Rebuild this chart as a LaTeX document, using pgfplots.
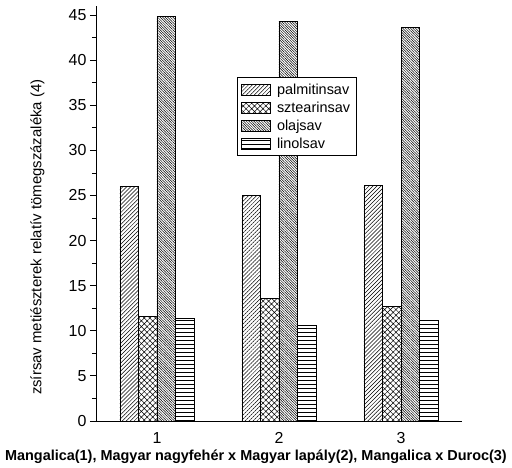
\documentclass[border=0pt]{standalone}
\usepackage{pgfplots}
\pgfplotsset{compat=1.18}
\usetikzlibrary{patterns.meta}
\usepackage{fontspec}
\setmainfont{Liberation Sans}
\begin{document}
\begin{tikzpicture}
\useasboundingbox (-96bp,-47bp) rectangle (416bp,421bp);
\begin{axis}[
  scale only axis,
  width=366bp, height=415bp,
  xmin=0.5, xmax=3.5, ymin=0, ymax=46,
  axis x line=bottom, axis y line=left,
  axis line style={-, line width=0.8bp},
  ybar=0pt, bar width=0.152,
  xtick={1,2,3}, xticklabels={1,2,3},
  major x tick style={draw=none},
  extra x ticks={0.5,1.5,2.5,3.5},
  extra x tick labels={},
  extra x tick style={major tick length=9bp, tick align=center, major tick style={draw=black, line width=0.8bp}},
  ytick={0,5,...,45}, minor y tick num=1,
  y tick style={line width=0.8bp, black},
  major tick length=6bp, minor tick length=4bp,
  tick align=outside,
  /pgf/number format/assume math mode=true,
  ticklabel style={font=\fontsize{16}{19}\selectfont},
  xticklabel style={yshift=-2bp},
  ylabel={zsírsav metiészterek relatív tömegszázaléka (4)},
  ylabel style={at={(axis description cs:-0.16,0.443)}, anchor=center, font=\fontsize{15}{18}\selectfont},
  xlabel={Mangalica(1), Magyar nagyfehér x Magyar lapály(2), Mangalica x Duroc(3)},
  xlabel style={at={(axis description cs:0.437,-0.0867)}, anchor=center, font=\bfseries\fontsize{14.5}{17}\selectfont},
  legend style={at={(rel axis cs:0.385,0.828)}, anchor=north west, draw=black, line width=0.8bp, fill=white,
    font=\fontsize{14.5}{17}\selectfont, row sep=2bp, inner xsep=4bp, inner ysep=4bp},
  legend cell align=left,
  legend image code/.code={\draw[#1, line width=0.6bp] (0bp,-5.5bp) rectangle (29bp,5.5bp); \path (33bp,0bp);},
  every axis plot/.append style={draw=black, line width=0.8bp},
]
\addplot[fill=white, postaction={pattern={Lines[angle=45,distance=2.8bp,line width=0.5bp]}}]
  coordinates {(1,26.0) (2,25.0) (3,26.1)};
\addplot[fill=white, postaction={pattern={Hatch[angle=45,distance=4bp,line width=0.5bp]}}]
  coordinates {(1,11.6) (2,13.6) (3,12.7)};
\addplot[fill=white, postaction={pattern={Lines[angle=-45,distance=1.8bp,line width=0.5bp]}}]
  coordinates {(1,44.8) (2,44.3) (3,43.6)};
\addplot[fill=white, postaction={pattern={Lines[angle=0,distance=4bp,line width=0.5bp]}}]
  coordinates {(1,11.4) (2,10.6) (3,11.1)};
\legend{palmitinsav, sztearinsav, olajsav, linolsav}
\end{axis}
\end{tikzpicture}
\end{document}
